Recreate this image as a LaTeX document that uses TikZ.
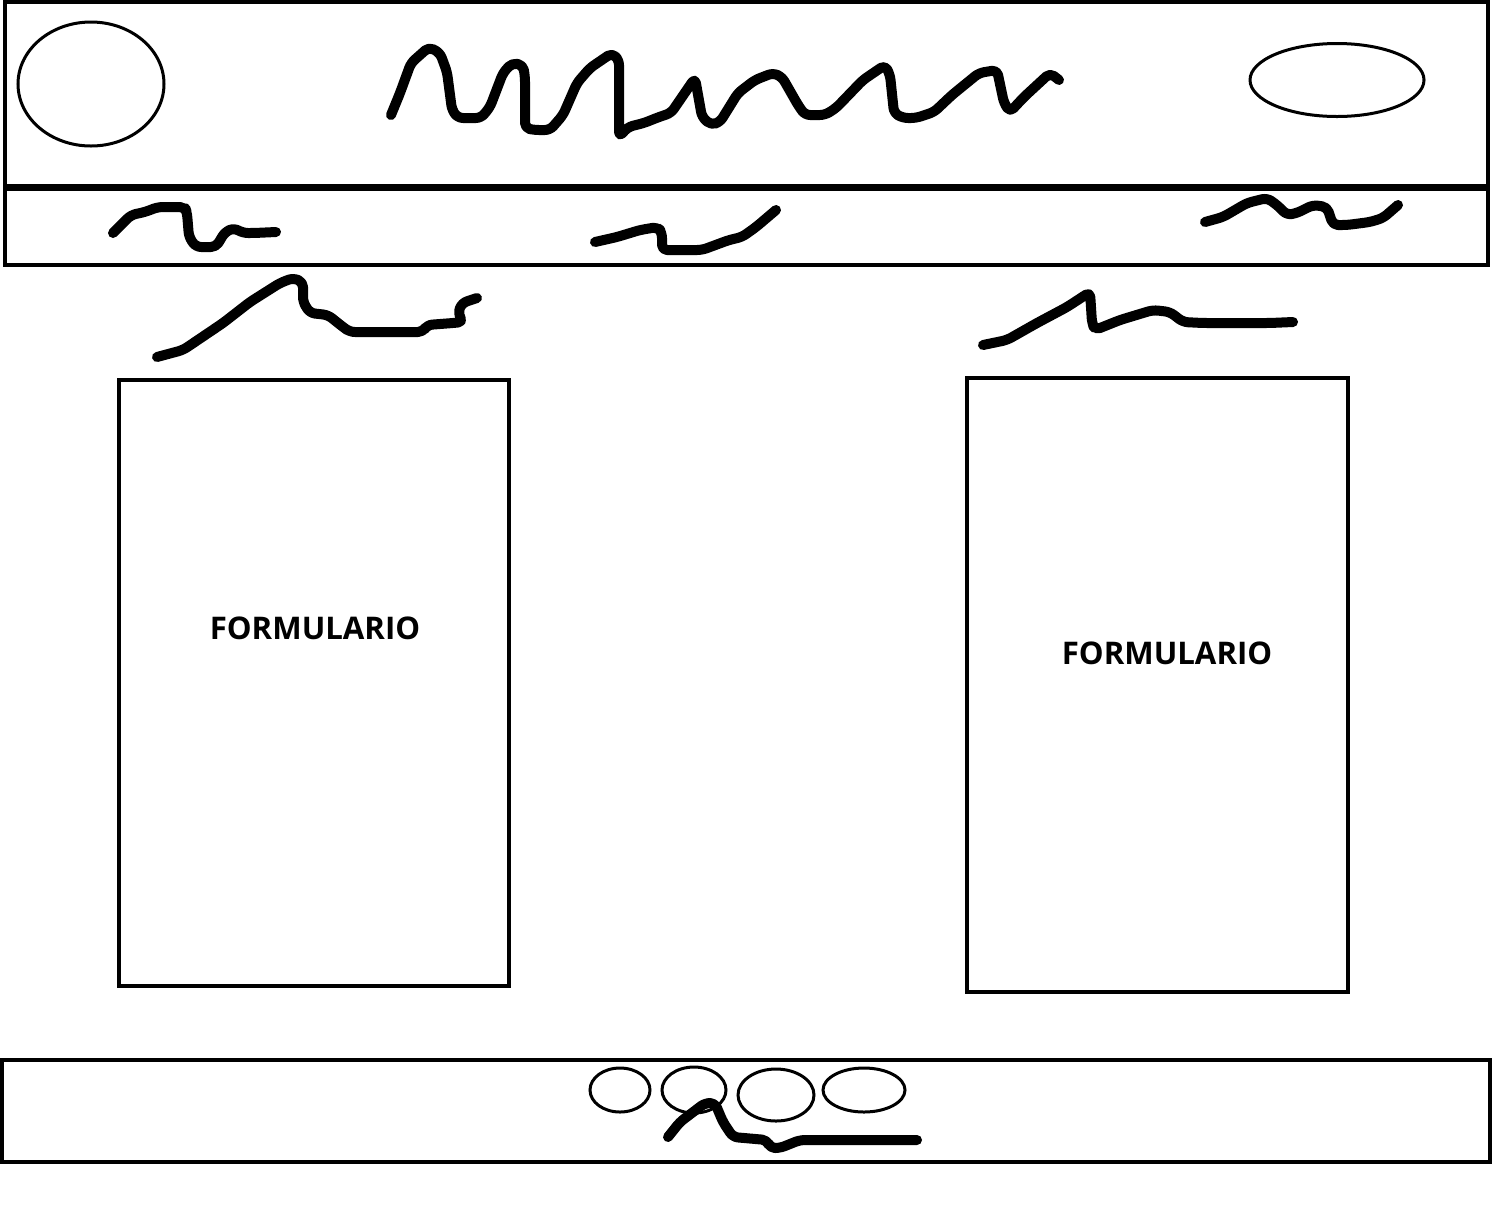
\documentclass[tikz,border=0pt]{standalone}
\usepackage{fontspec}
\setmainfont{Open Sans}
\usetikzlibrary{shapes.geometric}
\begin{document}
\begin{tikzpicture}[x=0.5pt,y=-0.5pt,
  frame/.style={draw=black, line width=2pt, rectangle, inner sep=0pt, outer sep=0pt, fill=none},
  oval/.style={draw=black, line width=1.5pt, ellipse, inner sep=0pt, outer sep=0pt},
  scrib/.style={draw=black, line width=5pt, line cap=round, line join=round, rounded corners=2.5pt},
  label/.style={font=\bfseries\fontsize{15.6}{17}\selectfont, inner sep=0pt}]
\useasboundingbox[fill=white] (0,0) rectangle (1497,1217);

% header
\node[frame, minimum width=741.5pt, minimum height=92pt] (header) at (746.5,94) {};
\node[oval, minimum width=73pt, minimum height=62pt] (logo) at (91,84) {};
\node[oval, minimum width=87pt, minimum height=36.5pt] (login) at (1337,80) {};
\coordinate (t0) at (391,115);
\draw[scrib] (t0) -- (400,93) -- (411,63) -- (429,47) -- (440,53) -- (447,72) -- (452,110) -- (458,118) -- (481,118) -- (490,107) -- (503,73) -- (512,63) -- (523,65) -- (525,77) -- (525,128) -- (534,130) -- (550,130) -- (563,115) -- (577,83) -- (590,68) -- (612,53) -- (619,60) -- (619,137) -- (628,127) -- (644,123) -- (659,117) -- (671,113) -- (695,78) -- (702,117) -- (711,125) -- (720,122) -- (738,93) -- (755,80) -- (773,73) -- (782,77) -- (798,105) -- (805,115) -- (825,115) -- (836,108) -- (863,80) -- (885,65) -- (890,75) -- (894,113) -- (903,118) -- (916,118) -- (934,112) -- (952,95) -- (979,73) -- (997,70) -- (1004,103) -- (1010,112) -- (1024,97) -- (1037,85) -- (1050,73) -- (1059,80);

% nav bar
\node[frame, minimum width=741.5pt, minimum height=38pt] (nav) at (746.5,227) {};
\draw[scrib] (113,233) -- (131,215) -- (145,212) -- (158,207) -- (185,207) -- (187,213) -- (189,237) -- (196,247) -- (216,247) -- (225,232) -- (234,228) -- (243,233) -- (254,233) -- (276,232);
\draw[scrib] (595,242) -- (617,237) -- (640,230) -- (658,227) -- (662,233) -- (662,250) -- (702,250) -- (729,240) -- (742,237) -- (756,227) -- (776,210);
\draw[scrib] (1205,222) -- (1223,217) -- (1247,203) -- (1267,198) -- (1277,205) -- (1287,215) -- (1297,213) -- (1313,205) -- (1327,207) -- (1333,225) -- (1347,225) -- (1370,222) -- (1383,218) -- (1398,205);

% form titles
\draw[scrib] (157,357) -- (183,350) -- (223,323) -- (250,302) -- (280,283) -- (293,278) -- (303,282) -- (303,302) -- (310,313) -- (328,315) -- (343,327) -- (350,332) -- (423,332) -- (427,325) -- (453,323) -- (463,322) -- (458,313) -- (462,303) -- (477,298);
\draw[scrib] (983,345) -- (1007,340) -- (1037,323) -- (1067,307) -- (1090,292) -- (1092,323) -- (1095,330) -- (1120,320) -- (1153,310) -- (1170,312) -- (1183,322) -- (1203,323) -- (1270,323) -- (1293,322);

% forms
\node[frame, minimum width=195pt, minimum height=303pt] (formL) at (314,683) {};
\node[frame, minimum width=190.5pt, minimum height=307pt] (formR) at (1157.5,685) {};
\node[label] (formLtxt) at (315,628) {FORMULARIO};
\node[label] (formRtxt) at (1167,653) {FORMULARIO};

% footer
\node[frame, minimum width=744pt, minimum height=51pt] (footer) at (746,1111) {};
\node[oval, minimum width=30pt, minimum height=22pt] (s1) at (620,1090) {};
\node[oval, minimum width=32pt, minimum height=23pt] (s2) at (694,1090) {};
\node[oval, minimum width=38pt, minimum height=26pt] (s3) at (776,1095) {};
\node[oval, minimum width=41pt, minimum height=22pt] (s4) at (864,1090) {};
\draw[scrib] (668,1137) -- (680,1122) -- (705,1103) -- (715,1103) -- (723,1122) -- (733,1137) -- (767,1140) -- (770,1148) -- (780,1148) -- (800,1140) -- (917,1140);
\end{tikzpicture}
\end{document}
